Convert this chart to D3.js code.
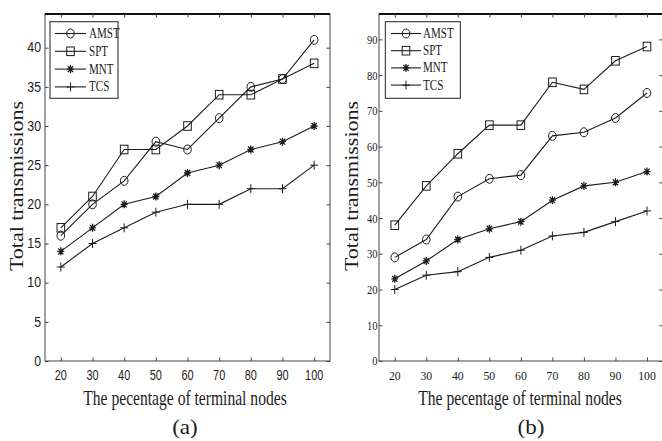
<!DOCTYPE html>
<html>
<head>
<meta charset="utf-8">
<script src="https://cdn.jsdelivr.net/npm/d3@7"></script>
<style>
  html, body { margin: 0; padding: 0; background: #fff; }
  svg { display: block; }
</style>
</head>
<body>
<svg id="chart" width="662" height="441"></svg>
<script>
// ---------- data ----------
const xValues = [20, 30, 40, 50, 60, 70, 80, 90, 100];
const seriesNames = ["AMST", "SPT", "MNT", "TCS"];
const markerTypes = ["circle", "square", "star", "plus"];

// panel (a)
const amstA = [16, 20, 23, 28, 27, 31, 35, 36, 41];
const sptA  = [17, 21, 27, 27, 30, 34, 34, 36, 38];
const mntA  = [14, 17, 20, 21, 24, 25, 27, 28, 30];
const tcsA  = [12, 15, 17, 19, 20, 20, 22, 22, 25];

// panel (b)
const amstB = [29, 34, 46, 51, 52, 63, 64, 68, 75];
const sptB  = [38, 49, 58, 66, 66, 78, 76, 84, 88];
const mntB  = [23, 28, 34, 37, 39, 45, 49, 50, 53];
const tcsB  = [20, 24, 25, 29, 31, 35, 36, 39, 42];

const xDomain = [15, 105];
const yDomainA = [0, 44.3];
const yDomainB = [0, 97.1];
const yTicksA = [0, 5, 10, 15, 20, 25, 30, 35, 40];
const yTicksB = [0, 10, 20, 30, 40, 50, 60, 70, 80, 90];
const xTitle = "The pecentage of terminal nodes";
const yTitle = "Total transmissions";
const panelLabels = ["(a)", "(b)"];

// ---------- drawing ----------
const svg = d3.select("#chart");
const INK = "#1c1c1c";
const SERIF = "'Liberation Serif', 'Times New Roman', serif";
const SANS = "'Liberation Sans', Arial, Helvetica, sans-serif";

function txt(g, x, y, s, o) {
  const t = g.append("text")
    .attr("transform", `translate(${x},${y}) scale(${o.sx || 1},1)` + (o.rot ? ` rotate(${o.rot})` : ""))
    .attr("font-family", o.family)
    .attr("font-size", o.size)
    .attr("fill", INK)
    .attr("text-anchor", o.anchor || "start")
    .attr("dominant-baseline", o.baseline || "alphabetic")
    .text(s);
  return t;
}

function marker(g, type, cx, cy) {
  const m = g.append("g").attr("transform", `translate(${cx},${cy})`)
    .attr("fill", "none").attr("stroke", INK).attr("stroke-width", 1);
  if (type === "circle") {
    m.append("ellipse").attr("rx", 3.8).attr("ry", 4.5);
  } else if (type === "square") {
    m.append("rect").attr("x", -3.8).attr("y", -4.3).attr("width", 7.6).attr("height", 8.6);
  } else if (type === "star") {
    m.append("path").attr("d", "M-3.5,0H3.5M0,-4V4M-2.6,-3L2.6,3M-2.6,3L2.6,-3").attr("stroke-width", 1.3);
  } else if (type === "plus") {
    m.append("path").attr("d", "M-4,0H4M0,-4.5V4.5");
  }
}

function panel(cfg) {
  const g = svg.append("g");
  const x = d3.scaleLinear().domain(xDomain).range([cfg.left, cfg.right]);
  const y = d3.scaleLinear().domain(cfg.yDomain).range([cfg.bottom, cfg.top]);

  // frame
  g.append("rect")
    .attr("x", cfg.left).attr("y", cfg.top)
    .attr("width", cfg.right - cfg.left).attr("height", cfg.bottom - cfg.top)
    .attr("fill", "none").attr("stroke", "#444").attr("stroke-width", 1);
  g.append("line").attr("x1", cfg.left).attr("x2", cfg.right)
    .attr("y1", cfg.top).attr("y2", cfg.top)
    .attr("stroke", "#111").attr("stroke-width", 2);

  // inward ticks via d3 axes
  const tk = 3.5;
  const axB = g.append("g").attr("transform", `translate(0,${cfg.bottom})`)
    .call(d3.axisBottom(x).tickValues(xValues).tickSizeInner(-tk).tickSizeOuter(0).tickFormat(""));
  const axT = g.append("g").attr("transform", `translate(0,${cfg.top})`)
    .call(d3.axisTop(x).tickValues(xValues).tickSizeInner(-tk).tickSizeOuter(0).tickFormat(""));
  const axL = g.append("g").attr("transform", `translate(${cfg.left},0)`)
    .call(d3.axisLeft(y).tickValues(cfg.yTicks).tickSizeInner(-tk).tickSizeOuter(0).tickFormat(""));
  const axR = g.append("g").attr("transform", `translate(${cfg.right},0)`)
    .call(d3.axisRight(y).tickValues(cfg.yTicks).tickSizeInner(-tk).tickSizeOuter(0).tickFormat(""));
  [axB, axT, axL, axR].forEach(a => {
    a.select(".domain").remove();
    a.selectAll("line").attr("stroke", "#444");
  });

  // tick labels
  xValues.forEach(v => txt(g, x(v), 380, String(v),
    { family: cfg.tickFamily, size: cfg.tickSize, sx: cfg.xTickSx, anchor: "middle" }));
  cfg.yTicks.forEach(v => txt(g, cfg.left - cfg.yLabelGap, y(v), String(v),
    { family: cfg.tickFamily, size: cfg.tickSize, sx: cfg.yTickSx, anchor: "end", baseline: "central" }));

  // series
  const line = d3.line().x((d, i) => x(xValues[i])).y(d => y(d));
  cfg.series.forEach((s, si) => {
    g.append("path").datum(s).attr("d", line)
      .attr("fill", "none").attr("stroke", INK).attr("stroke-width", 1.1);
    s.forEach((d, i) => marker(g, markerTypes[si], x(xValues[i]), y(d)));
  });

  // legend
  const L = cfg.legend;
  g.append("rect").attr("x", L.x0).attr("y", L.y0)
    .attr("width", L.x1 - L.x0).attr("height", L.y1 - L.y0)
    .attr("fill", "#fff").attr("stroke", "#222").attr("stroke-width", 1);
  seriesNames.forEach((n, i) => {
    const ly = L.first + i * L.step;
    g.append("line").attr("x1", L.lx0).attr("x2", L.lx1).attr("y1", ly).attr("y2", ly)
      .attr("stroke", INK).attr("stroke-width", 1.1);
    marker(g, markerTypes[i], (L.lx0 + L.lx1) / 2, ly);
    txt(g, L.tx, ly, n, { family: SERIF, size: 14, sx: 0.79, baseline: "central" });
  });

  // titles
  txt(g, cfg.xTitleX, 405, xTitle, { family: SERIF, size: 20, sx: 0.78, anchor: "middle" });
  txt(g, cfg.yTitleX, 186, yTitle, { family: SERIF, size: 22, sx: 0.82, rot: -90, anchor: "middle" });
  txt(g, cfg.labelX, 434, cfg.label, { family: SERIF, size: 22, sx: 1.05, anchor: "middle" });
}

panel({
  left: 45, right: 330, top: 14, bottom: 361,
  yDomain: yDomainA, yTicks: yTicksA,
  series: [amstA, sptA, mntA, tcsA],
  tickFamily: SANS, tickSize: 14, xTickSx: 0.78, yTickSx: 0.88, yLabelGap: 4,
  legend: { x0: 50, x1: 118, y0: 21.7, y1: 98.3, first: 33.5, step: 17.8, lx0: 55, lx1: 86, tx: 89 },
  xTitleX: 185, yTitleX: 23, labelX: 185, label: panelLabels[0]
});

panel({
  left: 379, right: 662.75, top: 14, bottom: 361,
  yDomain: yDomainB, yTicks: yTicksB,
  series: [amstB, sptB, mntB, tcsB],
  tickFamily: SERIF, tickSize: 13.5, xTickSx: 0.87, yTickSx: 0.78, yLabelGap: 1.5,
  legend: { x0: 385.3, x1: 460.3, y0: 21.7, y1: 98.3, first: 33.5, step: 17.2, lx0: 391, lx1: 421, tx: 423 },
  xTitleX: 520, yTitleX: 357.5, labelX: 531, label: panelLabels[1]
});
</script>
</body>
</html>
